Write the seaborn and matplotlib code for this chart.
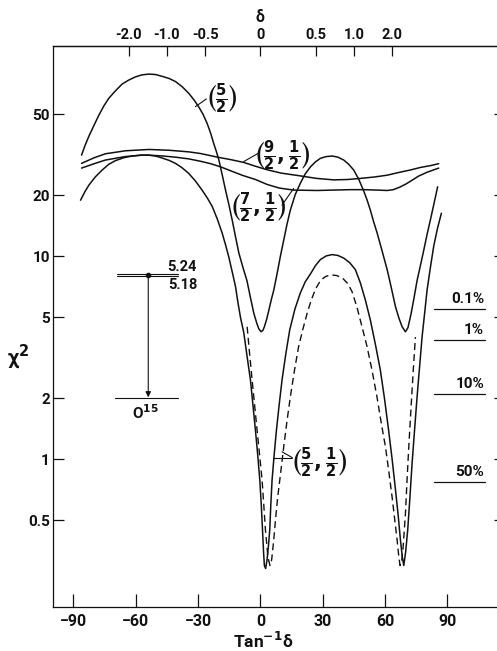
import numpy as np
import pandas as pd
import matplotlib
matplotlib.use("Agg")
import matplotlib.pyplot as plt
import matplotlib.transforms as mtransforms
import seaborn as sns

# ---------------- data ----------------
# (5/2)
c52_x = [-86.1, -84.5, -82.6, -80.2, -77.8, -75.4, -73.0, -70.0, -66.6, -63.4,
         -60.2, -57.0, -53.7, -50.5, -47.3, -44.0, -40.9, -37.7, -34.5, -32.0,
         -29.7, -27.6, -25.6, -24.0, -22.5, -21.2, -20.0, -18.4, -16.8, -15.2,
         -13.6, -12.0, -10.4, -8.4, -6.5, -5.0, -3.2, -1.8, -0.8, 0.3,
         1.2, 1.9, 3.0, 4.0, 5.2, 6.4, 8.0, 9.6, 11.2, 12.8,
         14.4, 16.8, 19.2, 21.6, 24.1, 26.5, 28.9, 31.7, 34.5, 37.3,
         40.1, 42.5, 44.9, 47.3, 49.7, 51.3, 52.9, 54.5, 56.2, 58.6,
         61.0, 63.0, 65.0, 66.7, 68.2, 69.8, 71.0, 72.5, 74.0, 75.4,
         77.0, 78.6, 80.2, 81.8, 83.6, 85.3]
c52_y = [31.5, 35.0, 39.0, 44.0, 49.5, 55.0, 60.0, 65.0, 70.5, 73.8,
         76.5, 78.3, 79.0, 78.6, 77.0, 75.2, 72.6, 68.5, 63.5, 59.0,
         54.5, 50.0, 45.0, 40.5, 36.0, 32.8, 29.8, 25.2, 21.2, 18.0,
         15.1, 12.5, 10.4, 8.8, 7.6, 6.4, 5.25, 4.7, 4.4, 4.25,
         4.32, 4.5, 4.9, 5.4, 6.1, 6.8, 8.2, 10.0, 12.0, 14.4,
         16.9, 20.2, 22.9, 25.5, 27.6, 29.2, 30.4, 31.0, 31.2, 30.8,
         29.8, 28.4, 26.6, 24.0, 21.0, 19.0, 16.9, 14.8, 13.0, 10.6,
         8.6, 7.0, 5.65, 4.95, 4.5, 4.25, 4.45, 5.2, 6.3, 7.6,
         9.0, 10.7, 12.8, 15.1, 18.3, 22.0]

# (9/2, 1/2)
c92_x = [-86.1, -80.0, -74.6, -65.0, -53.7, -44.0, -34.5, -28.9, -20.0, -14.0,
         -8.0, -2.5, 3.2, 10.0, 19.2, 27.0, 35.3, 42.0, 48.1, 55.0,
         61.0, 66.0, 72.0, 77.0, 82.0, 85.8]
c92_y = [28.7, 30.6, 32.0, 33.1, 33.6, 33.3, 32.7, 32.1, 30.7, 29.9,
         29.0, 27.8, 26.7, 25.7, 24.9, 24.2, 23.8, 23.9, 24.2, 24.6,
         25.1, 25.8, 26.6, 27.4, 28.0, 28.6]

# (7/2, 1/2)
c72_x = [-86.1, -80.0, -74.6, -65.0, -57.0, -53.7, -47.0, -41.0, -34.5, -28.9,
         -24.0, -19.2, -14.0, -8.4, -2.4, 3.2, 9.0, 16.0, 27.3, 35.0,
         43.3, 50.0, 56.1, 61.0, 64.0, 67.0, 70.0, 73.0, 76.0, 80.0,
         85.8]
c72_y = [27.2, 28.6, 29.8, 31.0, 31.5, 31.5, 31.2, 30.8, 30.2, 29.4,
         28.6, 27.6, 26.3, 25.0, 23.9, 22.6, 21.7, 21.2, 21.1, 21.2,
         21.3, 21.3, 21.2, 21.1, 21.3, 21.9, 22.7, 23.7, 24.8, 25.9,
         27.2]

# (5/2, 1/2) solid
c5212_x = [-86.6, -84.5, -82.6, -79.5, -76.2, -73.0, -69.8, -65.8, -61.7, -57.7,
           -53.7, -50.5, -47.3, -44.0, -40.9, -37.7, -34.5, -31.3, -28.1, -25.6,
           -23.2, -20.8, -18.4, -16.8, -15.2, -13.6, -12.0, -10.8, -9.6, -8.0,
           -6.4, -4.8, -3.6, -2.4, -1.3, -0.3, 0.4, 1.0, 1.5, 1.9,
           2.5, 3.2, 3.9, 4.5, 5.0, 5.6, 6.6, 7.7, 9.0, 10.4,
           12.2, 14.1, 16.6, 19.2, 21.6, 24.1, 26.5, 28.9, 31.7, 34.5,
           37.3, 40.1, 43.0, 45.7, 48.1, 50.5, 52.9, 55.3, 57.7, 59.7,
           61.7, 63.4, 65.0, 66.3, 67.4, 68.3, 69.0, 69.9, 70.9, 72.0,
           73.0, 74.2, 75.4, 76.6, 77.8, 79.0, 80.2, 81.8, 83.4, 85.2,
           87.1]
c5212_y = [18.9, 20.8, 22.4, 24.6, 26.6, 28.4, 29.6, 30.6, 31.2, 31.5,
           31.5, 31.2, 30.5, 29.7, 28.7, 27.3, 25.6, 23.5, 21.2, 19.4,
           17.6, 15.3, 13.0, 11.4, 9.9, 8.4, 7.1, 5.9, 5.0, 4.2,
           3.2, 2.46, 1.85, 1.39, 1.05, 0.79, 0.60, 0.45, 0.35, 0.30,
           0.29, 0.32, 0.38, 0.45, 0.60, 0.79, 1.05, 1.39, 1.85, 2.46,
           3.3, 4.34, 5.5, 6.6, 7.5, 8.2, 9.0, 9.65, 10.05, 10.2,
           10.1, 9.8, 9.3, 8.6, 7.4, 6.1, 4.86, 3.7, 2.76, 2.0,
           1.39, 1.0, 0.71, 0.53, 0.40, 0.33, 0.30, 0.35, 0.45, 0.66,
           0.955, 1.4, 2.03, 2.85, 4.0, 5.2, 6.8, 8.8, 11.2, 13.7,
           16.3]

# (5/2, 1/2) dashed
c5212d_x = [-6.4, -5.2, -4.0, -2.8, -1.6, -0.4, 0.8, 1.6, 2.4, 3.6,
            4.6, 5.4, 6.4, 7.3, 8.3, 9.8, 11.2, 12.8, 14.4, 16.4,
            18.4, 20.5, 22.5, 24.5, 26.5, 28.9, 31.3, 33.7, 36.5, 39.3,
            42.0, 44.1, 46.5, 48.9, 51.3, 53.7, 56.1, 58.2, 60.2, 61.8,
            63.4, 64.6, 65.8, 66.5, 67.2, 67.9, 68.6, 69.8, 70.6, 71.4,
            72.2, 73.0, 73.8, 74.6]
c5212d_y = [4.5, 3.3, 2.46, 1.85, 1.39, 1.05, 0.79, 0.60, 0.45, 0.33,
            0.30, 0.32, 0.40, 0.51, 0.65, 0.87, 1.15, 1.55, 2.03, 2.75,
            3.6, 4.4, 5.25, 6.1, 6.9, 7.6, 7.95, 8.1, 8.05, 7.85,
            7.35, 6.7, 5.6, 4.5, 3.6, 2.75, 2.03, 1.5, 1.15, 0.87,
            0.65, 0.51, 0.40, 0.34, 0.30, 0.31, 0.36, 0.54, 0.80, 1.15,
            1.6, 2.2, 3.0, 4.0]

x_ticks = [-90, -60, -30, 0, 30, 60, 90]
x_labels = ["\u221290", "\u221260", "\u221230", "0", "30", "60", "90"]
delta_ticks = [-2.0, -1.0, -0.5, 0.0, 0.5, 1.0, 2.0]
delta_labels = ["-2.0", "-1.0", "-0.5", "0", "0.5", "1.0", "2.0"]
y_ticks = [0.5, 1, 2, 5, 10, 20, 50]
y_labels = ["0.5", "1", "2", "5", "10", "20", "50"]
conf_labels = ["0.1%", "1%", "10%", "50%"]
conf_levels = [5.5, 3.85, 2.1, 0.77]
level_labels = ["5.24", "5.18"]
level_values = [8.18, 8.02]
ground_value = 2.0

# ---------------- style ----------------
sns.set_theme(style="white")
plt.rcParams["font.family"] = ["Roboto", "DejaVu Sans"]
plt.rcParams["font.weight"] = "bold"
plt.rcParams["mathtext.fontset"] = "dejavusans"
ink = "#111111"

fig = plt.figure(figsize=(4.97, 6.51), dpi=100)
ax = fig.add_axes([0.106, 0.068, 0.910, 0.8618])
ax.set_yscale("log")
ax.set_xlim(-100, 117.7)
ax.set_ylim(0.188, 109)

solid_curves = [
    ("(5/2)", c52_x, c52_y),
    ("(9/2,1/2)", c92_x, c92_y),
    ("(7/2,1/2)", c72_x, c72_y),
    ("(5/2,1/2)", c5212_x, c5212_y),
]
for name, xs, ys in solid_curves:
    df = pd.DataFrame({"x": xs, "y": ys})
    sns.lineplot(data=df, x="x", y="y", ax=ax, color=ink, lw=1.1,
                 sort=False, estimator=None)
dfd = pd.DataFrame({"x": c5212d_x, "y": c5212d_y})
sns.lineplot(data=dfd, x="x", y="y", ax=ax, color=ink, lw=1.0,
             sort=False, estimator=None, linestyle=(0, (5, 3)))

# axes cosmetics
for s in ["left", "bottom", "top"]:
    ax.spines[s].set_visible(True)
    ax.spines[s].set_color(ink)
    ax.spines[s].set_linewidth(0.9)
ax.spines["right"].set_visible(False)

ax.set_xticks(x_ticks)
ax.set_xticklabels(x_labels)
ax.set_yticks(y_ticks)
ax.set_yticklabels(y_labels)
ax.yaxis.set_minor_locator(matplotlib.ticker.NullLocator())
ax.tick_params(axis="x", direction="in", length=9.5, width=0.9, colors=ink,
               labelsize=11.5, pad=5, bottom=True, top=False)
ax.tick_params(axis="y", direction="in", length=8, width=0.9, colors=ink,
               labelsize=11, pad=2, left=True, right=True)
ax.set_xlabel("")
ax.set_ylabel("")

ax2 = ax.twiny()
ax2.set_xlim(ax.get_xlim())
ax2.set_xticks(np.degrees(np.arctan(delta_ticks)))
ax2.set_xticklabels(delta_labels)
ax2.tick_params(axis="x", direction="in", length=7, width=0.9, colors=ink,
                labelsize=10.5, pad=3)
for s in ["left", "bottom", "right"]:
    ax2.spines[s].set_visible(False)
ax2.spines["top"].set_color(ink)
ax2.spines["top"].set_linewidth(0.9)

# axis titles
bt = mtransforms.blended_transform_factory(ax.transData, fig.transFigure)
ax.text(0, 0.973, "\u03b4", transform=bt, ha="center", va="center",
        fontsize=11.5, color=ink)
ax.text(1.5, 0.016, "Tan$^{-1}$\u03b4", transform=bt, ha="center",
        va="center", fontsize=12.5, color=ink)
fig.text(0.037, 0.452, "\u03c7$^2$", ha="center", va="center",
         fontsize=15, color=ink)

# curve labels
fs = 15
ax.text(-19.0, 59.6, r"$\left(\frac{\mathbf{5}}{\mathbf{2}}\right)$",
        ha="center", va="center", fontsize=fs, color=ink)
ax.plot([-31.3, -26.0], [54.6, 59.6], color=ink, lw=0.8)
ax.text(10.4, 31.2, r"$\left(\frac{\mathbf{9}}{\mathbf{2}},\frac{\mathbf{1}}{\mathbf{2}}\right)$",
        ha="center", va="center", fontsize=fs, color=ink)
ax.plot([-8.0, -1.0], [29.3, 32.2], color=ink, lw=0.8)
ax.text(-1.5, 17.3, r"$\left(\frac{\mathbf{7}}{\mathbf{2}},\frac{\mathbf{1}}{\mathbf{2}}\right)$",
        ha="center", va="center", fontsize=fs, color=ink)
ax.plot([10.4, 16.0], [17.9, 21.6], color=ink, lw=0.8)
ax.text(28.0, 0.96, r"$\left(\frac{\mathbf{5}}{\mathbf{2}},\frac{\mathbf{1}}{\mathbf{2}}\right)$",
        ha="center", va="center", fontsize=fs, color=ink)
ax.plot([6.2, 15.3], [1.01, 1.01], color=ink, lw=0.8)
ax.plot([10.4, 15.3], [1.09, 1.02], color=ink, lw=0.8)

# level scheme
ax.plot([-69, -39.5], [level_values[0], level_values[0]], color=ink, lw=0.8)
ax.plot([-69, -39.5], [level_values[1], level_values[1]], color=ink, lw=0.8)
ax.plot([-69.8, -39.5], [ground_value, ground_value], color=ink, lw=0.8)
ax.plot([-54], [8.1], "o", color=ink, ms=3)
ax.annotate("", xy=(-54, ground_value * 1.01), xytext=(-54, 8.1),
            arrowprops=dict(arrowstyle="-|>", lw=0.8, color=ink,
                            mutation_scale=8, shrinkA=0, shrinkB=0))
ax.text(-45, 8.86, level_labels[0], ha="left", va="center", fontsize=10.5, color=ink)
ax.text(-44.5, 7.2, level_labels[1], ha="left", va="center", fontsize=10.5, color=ink)
ax.text(-55.3, 1.69, "O$^{15}$", ha="center", va="center", fontsize=11, color=ink)

# confidence levels
for lab, lv in zip(conf_labels, conf_levels):
    ax.plot([83.7, 108.3], [lv, lv], color=ink, lw=0.9)
    ax.text(107.6, lv * 1.035, lab, ha="right", va="bottom",
            fontsize=11, color=ink)

fig.savefig("out.png", dpi=100)
